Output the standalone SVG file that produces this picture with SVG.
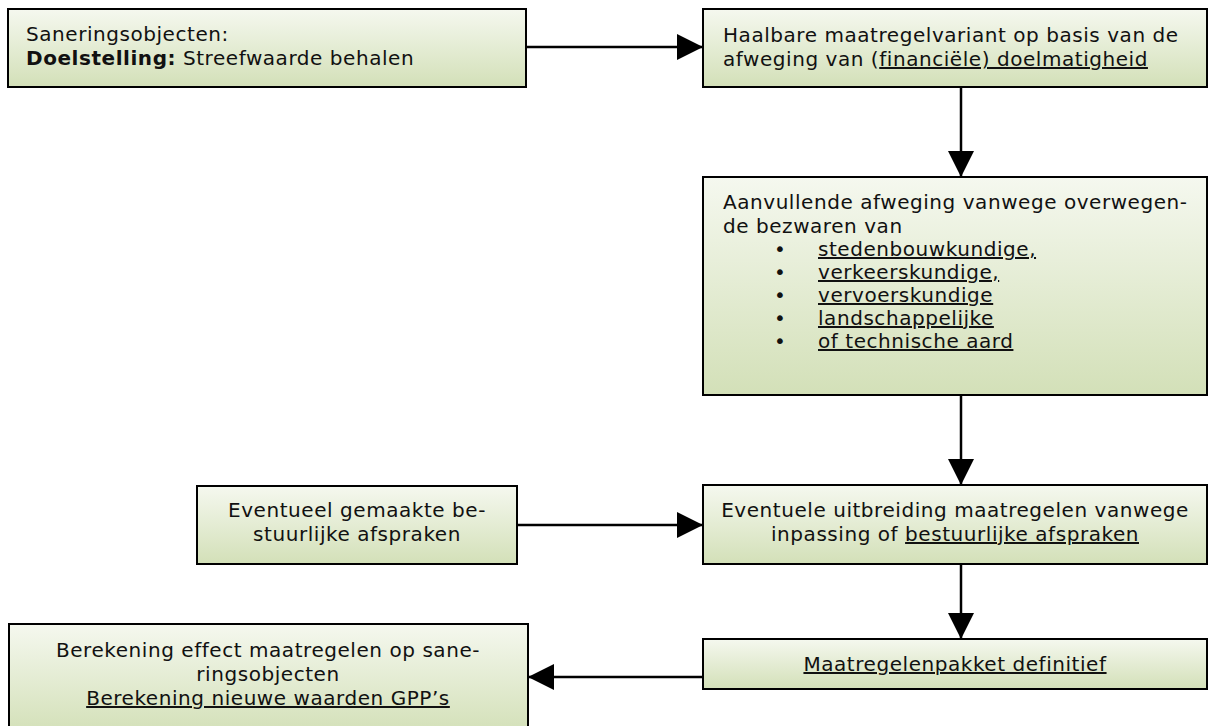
<svg xmlns="http://www.w3.org/2000/svg" width="1214" height="726" viewBox="0 0 1214 726">
<defs>
<linearGradient id="g" x1="0" y1="0" x2="0" y2="1">
<stop offset="0" stop-color="#f5f8ef"/>
<stop offset="1" stop-color="#d3e0b8"/>
</linearGradient>
<marker id="ah" markerUnits="userSpaceOnUse" markerWidth="26" markerHeight="26" refX="26" refY="13" orient="auto">
<path d="M0,0 L26,13 L0,26 Z" fill="#000"/>
</marker>
<style>
.box{fill:url(#g);stroke:#000;stroke-width:2}
text{font-family:"DejaVu Sans","Verdana",sans-serif;font-size:20px;letter-spacing:0.55px;fill:#111}
.c{text-anchor:middle}
.u{text-decoration:underline}
.b{font-weight:bold}
.con{fill:none;stroke:#000;stroke-width:2.5;marker-end:url(#ah)}
</style>
</defs>
<g id="connectors">
<line class="con" x1="526" y1="47" x2="703" y2="47"/>
<line class="con" x1="961" y1="87" x2="961" y2="177"/>
<line class="con" x1="961" y1="395" x2="961" y2="485"/>
<line class="con" x1="517" y1="525" x2="703" y2="525"/>
<line class="con" x1="961" y1="564" x2="961" y2="639"/>
<line class="con" x1="703" y1="677" x2="528" y2="677"/>
</g>
<g id="n1">
<rect class="box" x="8" y="9" width="518" height="78"/>
<text x="26" y="41">Saneringsobjecten:</text>
<text x="26" y="65"><tspan class="b">Doelstelling:</tspan> Streefwaarde behalen</text>
</g>
<g id="n2">
<rect class="box" x="703" y="9" width="504" height="78"/>
<text x="723" y="42">Haalbare maatregelvariant op basis van de</text>
<text x="723" y="66">afweging van (<tspan class="u">financiële) doelmatigheid</tspan></text>
</g>
<g id="n3">
<rect class="box" x="703" y="177" width="504" height="218"/>
<text x="723" y="209">Aanvullende afweging vanwege overwegen-</text>
<text x="723" y="233">de bezwaren van</text>
<text x="774" y="256">•</text><text x="818" y="256" class="u">stedenbouwkundige,</text>
<text x="774" y="279">•</text><text x="818" y="279" class="u">verkeerskundige,</text>
<text x="774" y="302">•</text><text x="818" y="302" class="u">vervoerskundige</text>
<text x="774" y="325">•</text><text x="818" y="325" class="u">landschappelijke</text>
<text x="774" y="348">•</text><text x="818" y="348" class="u">of technische aard</text>
</g>
<g id="n4">
<rect class="box" x="197" y="486" width="320" height="78"/>
<text class="c" x="357" y="517">Eventueel gemaakte be-</text>
<text class="c" x="357" y="541">stuurlijke afspraken</text>
</g>
<g id="n5">
<rect class="box" x="703" y="485" width="504" height="79"/>
<text class="c" x="955" y="517">Eventuele uitbreiding maatregelen vanwege</text>
<text class="c" x="955" y="541">inpassing of <tspan class="u">bestuurlijke afspraken</tspan></text>
</g>
<g id="n6">
<rect class="box" x="9" y="624" width="519" height="110"/>
<text class="c" x="268" y="657">Berekening effect maatregelen op sane-</text>
<text class="c" x="268" y="681">ringsobjecten</text>
<text class="c u" x="268" y="705">Berekening nieuwe waarden GPP’s</text>
</g>
<g id="n7">
<rect class="box" x="703" y="639" width="504" height="50"/>
<text class="c u" x="955" y="671">Maatregelenpakket definitief</text>
</g>
</svg>
